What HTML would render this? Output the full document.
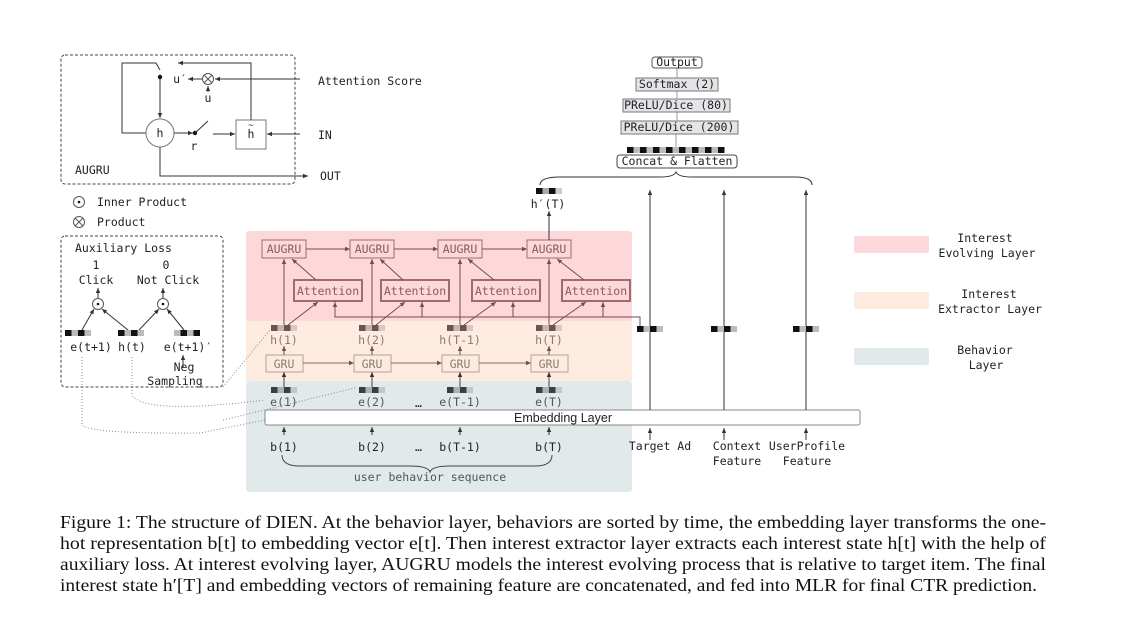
<!DOCTYPE html>
<html><head><meta charset="utf-8"><style>
body{margin:0;background:#fff;}
svg{display:block;font-family:"Liberation Mono",monospace;}
.m{font-family:"DejaVu Sans Mono","Liberation Mono",monospace;font-size:11.5px;fill:#222;}
.b{fill:#8a5a5e;}
.o{fill:#8c7a70;}
.cap{font-family:"Liberation Serif",serif;font-size:17.5px;fill:#111;}
</style></head><body>
<svg id="s" width="1124" height="624" viewBox="0 0 1124 624">
<defs>
<marker id="ar" markerWidth="6" markerHeight="6" refX="5" refY="3" orient="auto"><path d="M0,0.8 L5,3 L0,5.2z" fill="#333"/></marker>
<marker id="arb" markerWidth="6" markerHeight="6" refX="5" refY="3" orient="auto"><path d="M0,0.8 L5,3 L0,5.2z" fill="#7a4a4e"/></marker>
</defs>
<rect x="246" y="231" width="386" height="91" rx="3" fill="#fdd8db"/>
<rect x="246" y="321" width="386" height="60" fill="#fdebe0"/>
<rect x="246" y="381" width="386" height="111" rx="3" fill="#e1e9eb"/>
<g id="cols"></g>
<polyline points="335,301 335,317 640,317 640,326" fill="none" stroke="#7a4a4e" stroke-width="1"/>
<rect x="265" y="410" width="595" height="15" rx="2" fill="#fff" stroke="#888"/>
<text x="563" y="422" text-anchor="middle" font-family="Liberation Sans,sans-serif" font-size="12.5" fill="#222">Embedding Layer</text>
<path d="M282,455 Q282,466 300,466 L410,466 Q428,466 430,472 Q432,466 450,466 L535,466 Q552,466 552,455" fill="none" stroke="#444"/>
<text x="430" y="481" text-anchor="middle" class="m" style="fill:#555">user behavior sequence</text>
<text x="415" y="407" class="m">…</text>
<text x="415" y="451" class="m">…</text>
<line x1="549" y1="240" x2="549" y2="211" stroke="#333" marker-end="url(#ar)"/>
<text x="548" y="208" text-anchor="middle" class="m">h′(T)</text>
<path d="M540,185 Q540,177 560,177 L660,177 Q674,177 676,172 Q678,177 692,177 L795,177 Q812,177 812,185" fill="none" stroke="#333"/>
<rect x="617" y="155" width="120" height="13" rx="3" fill="#fff" stroke="#444"/>
<text x="677" y="165" text-anchor="middle" class="m">Concat &amp; Flatten</text>
<line x1="676" y1="134" x2="676" y2="147" stroke="#999"/>
<rect x="621" y="121" width="117" height="13" fill="#e4e4e8" stroke="#777"/>
<text x="679" y="131" text-anchor="middle" class="m">PReLU/Dice (200)</text>
<line x1="677" y1="112" x2="677" y2="121" stroke="#999"/>
<rect x="623" y="99" width="107" height="13" fill="#e4e4e8" stroke="#777"/>
<text x="676" y="109" text-anchor="middle" class="m">PReLU/Dice (80)</text>
<line x1="677" y1="91" x2="677" y2="99" stroke="#999"/>
<rect x="636" y="78" width="82" height="13" fill="#e4e4e8" stroke="#777"/>
<text x="677" y="88" text-anchor="middle" class="m">Softmax (2)</text>
<line x1="677" y1="68" x2="677" y2="78" stroke="#999"/>
<rect x="652" y="57" width="50" height="11" rx="3" fill="#fff" stroke="#555"/>
<text x="677" y="66" text-anchor="middle" class="m">Output</text>
<g id="feat"></g>
<text x="660" y="450" text-anchor="middle" class="m">Target Ad</text>
<text x="737" y="450" text-anchor="middle" class="m">Context</text>
<text x="737" y="465" text-anchor="middle" class="m">Feature</text>
<text x="807" y="450" text-anchor="middle" class="m">UserProfile</text>
<text x="807" y="465" text-anchor="middle" class="m">Feature</text>
<rect x="854" y="236" width="75" height="17" rx="2" fill="#fdd8db"/>
<text x="985" y="242" text-anchor="middle" class="m">Interest</text><text x="987" y="257" text-anchor="middle" class="m">Evolving Layer</text>
<rect x="854" y="292" width="75" height="17" rx="2" fill="#fdebe0"/>
<text x="989" y="298" text-anchor="middle" class="m">Interest</text><text x="990" y="313" text-anchor="middle" class="m">Extractor Layer</text>
<rect x="854" y="348" width="75" height="17" rx="2" fill="#e1e9eb"/>
<text x="985" y="354" text-anchor="middle" class="m">Behavior</text><text x="986" y="369" text-anchor="middle" class="m">Layer</text>
<rect x="61" y="55" width="234" height="129" rx="4" fill="none" stroke="#444" stroke-dasharray="3,2"/>
<polyline points="146,133 122,133 122,63 156,63 160,70" fill="none" stroke="#333"/>
<line x1="160" y1="77" x2="160" y2="118" stroke="#333" marker-end="url(#ar)"/>
<circle cx="160" cy="77" r="2.2" fill="#111"/>
<circle cx="160" cy="133" r="14" fill="#fff" stroke="#777"/><text x="160" y="137" text-anchor="middle" class="m">h</text>
<line x1="174" y1="133" x2="193" y2="133" stroke="#333" marker-end="url(#ar)"/>
<circle cx="195" cy="133" r="2.2" fill="#111"/><line x1="195" y1="133" x2="208" y2="121" stroke="#333"/>
<text x="194" y="150" text-anchor="middle" class="m">r</text>
<line x1="213" y1="134" x2="235" y2="134" stroke="#333" marker-end="url(#ar)"/>
<rect x="236" y="120" width="30" height="29" fill="#fff" stroke="#777"/><text x="251" y="138" text-anchor="middle" class="m">h</text><text x="251" y="128" text-anchor="middle" class="m" style="font-size:9px">~</text>
<line x1="300" y1="134" x2="267" y2="134" stroke="#333" marker-end="url(#ar)"/>
<text x="318" y="139" class="m">IN</text>
<polyline points="251,120 251,63 178,63" fill="none" stroke="#333" marker-end="url(#ar)"/>
<line x1="300" y1="79" x2="215" y2="79" stroke="#333" marker-end="url(#ar)"/>
<circle cx="208" cy="79" r="5.5" fill="#fff" stroke="#555"/><path d="M204,75 L212,83 M212,75 L204,83" stroke="#555"/>
<line x1="202" y1="79" x2="188" y2="79" stroke="#333" marker-end="url(#ar)"/>
<text x="180" y="83" text-anchor="middle" class="m">u′</text>
<line x1="208" y1="92" x2="208" y2="86" stroke="#333" marker-end="url(#ar)"/><text x="208" y="102" text-anchor="middle" class="m">u</text>
<text x="318" y="85" class="m">Attention Score</text>
<polyline points="160,147 160,176 308,176" fill="none" stroke="#333" marker-end="url(#ar)"/>
<text x="320" y="180" class="m">OUT</text>
<text x="75" y="174" class="m">AUGRU</text>
<circle cx="79" cy="202" r="5.5" fill="#fff" stroke="#555"/><circle cx="79" cy="202" r="1.3" fill="#111"/>
<text x="97" y="206" class="m">Inner Product</text>
<circle cx="79" cy="222" r="5.5" fill="#fff" stroke="#555"/><path d="M75,218 L83,226 M83,218 L75,226" stroke="#555"/>
<text x="97" y="226" class="m">Product</text>
<rect x="61" y="236" width="162" height="151" rx="4" fill="none" stroke="#444" stroke-dasharray="3,2"/>
<text x="75" y="252" class="m">Auxiliary Loss</text>
<text x="96" y="269" text-anchor="middle" class="m">1</text><text x="96" y="284" text-anchor="middle" class="m">Click</text>
<text x="166" y="269" text-anchor="middle" class="m">0</text><text x="168" y="284" text-anchor="middle" class="m">Not Click</text>
<circle cx="98" cy="304" r="5.5" fill="#fff" stroke="#555"/><circle cx="98" cy="304" r="1.3" fill="#111"/>
<circle cx="163" cy="304" r="5.5" fill="#fff" stroke="#555"/><circle cx="163" cy="304" r="1.3" fill="#111"/>
<line x1="98" y1="298" x2="98" y2="288" stroke="#333" marker-end="url(#ar)"/>
<line x1="163" y1="298" x2="163" y2="288" stroke="#333" marker-end="url(#ar)"/>
<line x1="82" y1="330" x2="94" y2="309" stroke="#333" marker-end="url(#ar)"/>
<line x1="128" y1="330" x2="102" y2="309" stroke="#333" marker-end="url(#ar)"/>
<line x1="139" y1="330" x2="159" y2="309" stroke="#333" marker-end="url(#ar)"/>
<line x1="184" y1="330" x2="167" y2="309" stroke="#333" marker-end="url(#ar)"/>
<g id="aux"></g>
<text x="91" y="351" text-anchor="middle" class="m">e(t+1)</text>
<text x="132" y="351" text-anchor="middle" class="m">h(t)</text>
<text x="188" y="351" text-anchor="middle" class="m">e(t+1)′</text>
<line x1="183" y1="368" x2="183" y2="355" stroke="#333" marker-end="url(#ar)"/>
<text x="184" y="371" text-anchor="middle" class="m">Neg</text><text x="175" y="385" text-anchor="middle" class="m">Sampling</text>
<path d="M82,357 L82,425 Q90,434 200,433 L265,420" fill="none" stroke="#888" stroke-dasharray="1,2"/>
<path d="M132,357 L132,395 Q145,415 265,400" fill="none" stroke="#888" stroke-dasharray="1,2"/>
<path d="M223,387 L270,330" fill="none" stroke="#888" stroke-dasharray="1,2"/>
<path d="M223,420 L355,388" fill="none" stroke="#888" stroke-dasharray="1,2"/>
<text class="cap" x="60" y="528" textLength="986" lengthAdjust="spacingAndGlyphs">Figure 1: The structure of DIEN. At the behavior layer, behaviors are sorted by time, the embedding layer transforms the one-</text>
<text class="cap" x="60" y="549" textLength="986" lengthAdjust="spacingAndGlyphs">hot representation b[t] to embedding vector e[t]. Then interest extractor layer extracts each interest state h[t] with the help of</text>
<text class="cap" x="60" y="570" textLength="986" lengthAdjust="spacingAndGlyphs">auxiliary loss. At interest evolving layer, AUGRU models the interest evolving process that is relative to target item. The final</text>
<text class="cap" x="60" y="591" textLength="977" lengthAdjust="spacingAndGlyphs">interest state h′[T] and embedding vectors of remaining feature are concatenated, and fed into MLR for final CTR prediction.</text>
</svg>
<script>
const NS="http://www.w3.org/2000/svg";
const colX=[284,372,460,549];
const labels=["1","2","T-1","T"];
const attX=[328,415,506,596];
const featX=[650,724,806];
function mk(t,a,p){const e=document.createElementNS(NS,t);for(const k in a)e.setAttribute(k,a[k]);(p||document.getElementById('s')).appendChild(e);return e;}
function sq(x,y,cols,p){cols.forEach((c,i)=>mk('rect',{x:x+i*6.5,y:y,width:6.5,height:6,fill:c},p));}
const g=document.getElementById('cols');
const A="#7a4a4e";
colX.forEach((x,i)=>{
  const au=mk('rect',{x:x-22,y:240,width:44,height:18,fill:'none',stroke:'#a06a6e'},g);
  
  
  const t1=mk('text',{x:x,y:253,'text-anchor':'middle',class:'m b'},g);t1.textContent='AUGRU';
  const at=mk('rect',{x:attX[i]-34,y:280,width:68,height:21,fill:'none',stroke:'#a06a6e','stroke-width':2},g);
  
  
  const t2=mk('text',{x:attX[i],y:295,'text-anchor':'middle',class:'m b'},g);t2.textContent='Attention';
  mk('line',{x1:x,y1:325,x2:x,y2:259,stroke:A,'marker-end':'url(#arb)'},g);
  mk('line',{x1:x+4,y1:325,x2:attX[i]-10,y2:302,stroke:A,'marker-end':'url(#arb)'},g);
  mk('line',{x1:attX[i]-12,y1:280,x2:x+8,y2:259,stroke:A,'marker-end':'url(#arb)'},g);
  mk('line',{x1:attX[i]+7,y1:317,x2:attX[i]+7,y2:302,stroke:A,'marker-end':'url(#arb)'},g);
  if(i<3){mk('line',{x1:x+22,y1:249,x2:colX[i+1]-22,y2:249,stroke:A,'marker-end':'url(#arb)'},g);}
  sq(x-13,325,['#6b5550','#c8b5aa','#6b5550','#d8c8bd'],g);
  const h=mk('text',{x:x,y:344,'text-anchor':'middle',class:'m o'},g);h.textContent='h('+labels[i]+')';
  const gr=mk('rect',{x:x-18,y:355,width:37,height:17,fill:'none',stroke:'#b8a090'},g);
  
  
  const t3=mk('text',{x:x,y:368,'text-anchor':'middle',class:'m o'},g);t3.textContent='GRU';
  if(i<3){mk('line',{x1:x+19,y1:363,x2:colX[i+1]-18,y2:363,stroke:'#8c6a60','marker-end':'url(#arb)'},g);}
  mk('line',{x1:x,y1:355,x2:x,y2:346,stroke:A,'marker-end':'url(#arb)'},g);
  mk('line',{x1:x,y1:387,x2:x,y2:372,stroke:'#444','marker-end':'url(#ar)'},g);
  sq(x-13,387,['#3a3f42','#aab2b5','#3a3f42','#c0c8ca'],g);
  const e=mk('text',{x:x,y:406,'text-anchor':'middle',class:'m',style:'fill:#555'},g);e.textContent='e('+labels[i]+')';
  mk('line',{x1:x,y1:435,x2:x,y2:427,stroke:'#333','marker-end':'url(#ar)'},g);
  const b=mk('text',{x:x,y:451,'text-anchor':'middle',class:'m'},g);b.textContent='b('+labels[i]+')';
});
sq(536,188,['#111','#aaa','#111','#ccc']);
sq(627,147,['#111','#bbb','#111','#bbb','#111','#bbb','#111','#bbb','#111','#bbb','#111','#bbb','#111','#bbb','#111']);
const f=document.getElementById('feat');
featX.forEach((x,i)=>{
  mk('line',{x1:x,y1:410,x2:x,y2:190,stroke:'#333','marker-end':'url(#ar)'},f);
  sq(x-13,326,['#111','#bbb','#111','#bbb'],f);
  mk('line',{x1:x,y1:440,x2:x,y2:428,stroke:'#333','marker-end':'url(#ar)'},f);
});
const ax=document.getElementById('aux');
sq(65,330,['#111','#bbb','#111','#bbb'],ax);
sq(118,330,['#111','#bbb','#111','#bbb'],ax);
sq(174,330,['#bbb','#111','#bbb','#111'],ax);
</script>
</body></html>
